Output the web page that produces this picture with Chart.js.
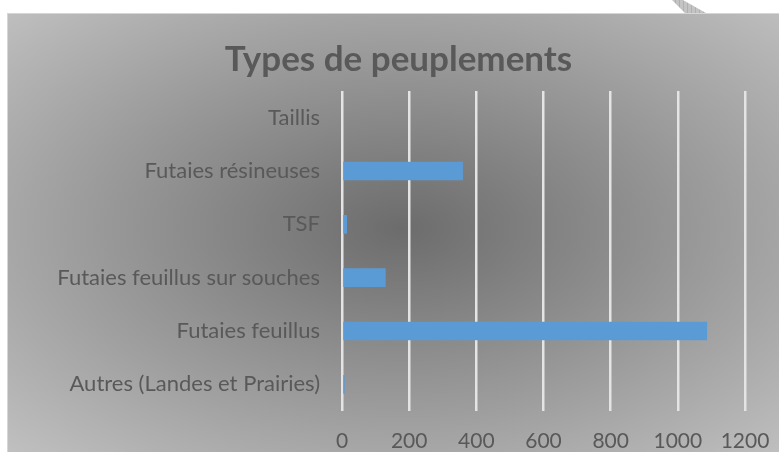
<!DOCTYPE html>
<html>
<head>
<meta charset="utf-8">
<script src="https://cdn.jsdelivr.net/npm/chart.js@4"></script>
<style>
  html, body { margin: 0; padding: 0; background: #fff; }
  body { width: 779px; height: 452px; position: relative; overflow: hidden; }
  #frame {
    position: absolute; left: 7px; top: 13px; width: 772px; height: 439px;
    background: radial-gradient(ellipse farthest-corner at 51% 49%, #6c6c6c 0%, #9a9a9a 55%, #c0c0c0 100%);
    border-top: 1px solid #d6d6d6; border-left: 1px solid #d6d6d6; box-sizing: border-box;
  }
  #mark {
    position: absolute; left: 672px; top: 0; width: 34px; height: 13px;
    background: repeating-linear-gradient(90deg, #c4c4c4 0 3px, #b0b0b0 3px 4px);
    clip-path: polygon(0 0, 32% 0, 100% 100%, 38% 100%);
  }
</style>
</head>
<body>
<div id="mark"></div>
<div id="frame"><canvas id="chart" width="771" height="438"></canvas></div>
<script>
const categories = ['Taillis', 'Futaies résineuses', 'TSF', 'Futaies feuillus sur souches', 'Futaies feuillus', 'Autres (Landes et Prairies)'];
const surfaces = [0, 360, 15, 130, 1087, 8];
const xTicks = [0, 200, 400, 600, 800, 1000, 1200];

const textColor = '#595959';
const font = 'Lato, "Open Sans", sans-serif';

const ctx = document.getElementById('chart').getContext('2d');
const chart = new Chart(ctx, {
    type: 'bar',
    data: {
        labels: categories,
        datasets: [{
            label: 'Surface',
            data: surfaces,
            backgroundColor: '#5B9BD5',
            barPercentage: 0.35,
            categoryPercentage: 1
        }]
    },
    options: {
        indexAxis: 'y',
        responsive: false,
        animation: false,
        layout: { padding: { left: 44, right: 34, top: 0, bottom: 0 } },
        plugins: {
            legend: { display: false },
            tooltip: { enabled: false },
            title: {
                display: true,
                text: 'Types de peuplements',
                color: textColor,
                font: { family: font, size: 35, weight: 'bold' },
                padding: { top: 25, bottom: 10 }
            }
        },
        scales: {
            x: {
                min: xTicks[0],
                max: xTicks[xTicks.length - 1],
                afterBuildTicks: function(scale) {
                    scale.ticks = xTicks.map(v => ({ value: v }));
                },
                afterFit: function(scale) {
                    scale.height = 41;
                    // keep the plot edge where the reference has it
                    scale.paddingLeft = 0;
                    scale.paddingRight = 0;
                },
                border: { display: false },
                grid: { color: '#e4e4e4', lineWidth: 2.5, drawTicks: false },
                ticks: {
                    color: textColor,
                    font: { family: font, size: 21 },
                    padding: 18,
                    callback: function(value) { return String(value); }
                }
            },
            y: {
                afterFit: function(scale) { scale.width = 290; },
                border: { display: false },
                grid: { display: false, drawTicks: false },
                ticks: { color: textColor, font: { family: font, size: 22 }, padding: 22 }
            }
        }
    }
});
</script>
</body>
</html>
